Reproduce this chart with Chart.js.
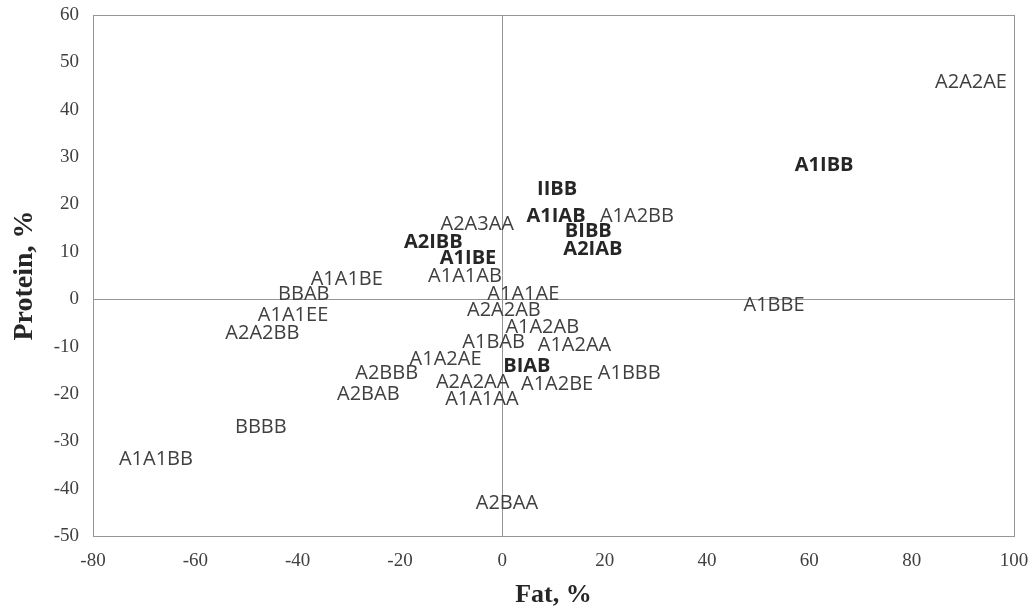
<!DOCTYPE html>
<html>
<head>
<meta charset="utf-8">
<script src="https://cdn.jsdelivr.net/npm/chart.js@4"></script>
<style>
html, body { margin: 0; padding: 0; background: #fff; }
</style>
</head>
<body>
<canvas id="chart1" width="1034" height="613"></canvas>
<script>
var ctx = document.getElementById('chart1').getContext('2d');

// genotype labels with their fat / protein deviations (%)
var names = ['A2A2AE', 'A1IBB', 'IIBB', 'A1IAB', 'A1A2BB', 'A2A3AA', 'BIBB', 'A2IBB',
	'A2IAB', 'A1IBE', 'A1A1AB', 'A1A1BE', 'A1A1AE', 'BBAB', 'A1BBE', 'A2A2AB',
	'A1A1EE', 'A1A2AB', 'A2A2BB', 'A1A2AA', 'A1BAB', 'A1A2AE', 'BIAB', 'A2BBB',
	'A1BBB', 'A2A2AA', 'A1A2BE', 'A2BAB', 'A1A1AA', 'BBBB', 'A1A1BB', 'A2BAA'];
var fat = [91.6, 62.9, 10.7, 10.5, 26.3, -4.9, 16.8, -13.5,
	17.7, -6.7, -7.3, -30.4, 4.1, -38.8, 53.1, 0.3,
	-40.9, 7.8, -46.9, 14.1, -1.7, -11.1, 4.8, -22.6,
	24.8, -5.8, 10.7, -26.2, -4.0, -47.2, -67.7, 0.9];
var protein = [45.8, 28.3, 23.1, 17.4, 17.4, 15.9, 14.3, 12.1,
	10.5, 8.7, 4.8, 4.3, 1.1, 1.1, -1.2, -2.3,
	-3.4, -6.0, -7.2, -9.7, -9.0, -12.6, -14.1, -15.7,
	-15.7, -17.5, -17.9, -20.1, -21.1, -27.1, -33.7, -43.0];
var boldNames = ['A1IBB', 'IIBB', 'A1IAB', 'BIBB', 'A2IBB', 'A2IAB', 'A1IBE', 'BIAB'];

var xTicks = [-80, -60, -40, -20, 0, 20, 40, 60, 80, 100];
var yTicks = [-50, -40, -30, -20, -10, 0, 10, 20, 30, 40, 50, 60];

var points = names.map(function(n, i) {
	return { x: fat[i], y: protein[i] };
});

// writes each genotype name on its point
var pointLabels = {
	id: 'pointLabels',
	afterDatasetsDraw: function(chart) {
		var c = chart.ctx;
		var meta = chart.getDatasetMeta(0);
		c.save();
		c.textAlign = 'center';
		c.textBaseline = 'middle';
		meta.data.forEach(function(pt, i) {
			var bold = boldNames.indexOf(names[i]) >= 0;
			c.font = (bold ? 'bold ' : '') + '20px "Open Sans"';
			c.fillStyle = bold ? '#262626' : '#404040';
			c.fillText(names[i], pt.x, pt.y);
		});
		c.restore();
	}
};

// box round the plot area
var plotFrame = {
	id: 'plotFrame',
	beforeDatasetsDraw: function(chart) {
		var a = chart.chartArea;
		var c = chart.ctx;
		c.save();
		c.strokeStyle = '#969696';
		c.lineWidth = 1;
		c.strokeRect(Math.round(a.left) + 0.5, Math.round(a.top) + 0.5,
			Math.round(a.right - a.left), Math.round(a.bottom - a.top));
		c.restore();
	}
};

function zeroLine(c) {
	return c.tick && c.tick.value === 0 ? '#969696' : 'rgba(0,0,0,0)';
}

var chart1 = new Chart(ctx, {
	type: 'scatter',
	data: {
		datasets: [{
			label: 'Genotypes',
			data: points,
			pointRadius: 0,
			pointHoverRadius: 0,
			showLine: false
		}]
	},
	options: {
		responsive: false,
		animation: false,
		layout: { padding: { left: 6, top: 15, right: 20, bottom: 0 } },
		plugins: {
			legend: { display: false },
			tooltip: { enabled: false }
		},
		scales: {
			x: {
				type: 'linear',
				min: -80,
				max: 100,
				afterBuildTicks: function(axis) {
					axis.ticks = xTicks.map(function(v) { return { value: v }; });
				},
				afterFit: function(axis) {
					axis.height = 77;
					axis.paddingLeft = 0;
					axis.paddingRight = 0;
				},
				grid: { color: zeroLine, drawTicks: false },
				border: { display: false },
				ticks: {
					padding: 14,
					color: '#404040',
					font: { family: '"Liberation Serif"', size: 19 }
				},
				title: {
					display: true,
					text: 'Fat, %',
					color: '#262626',
					padding: { top: 0, bottom: 2 },
					font: { family: '"Liberation Serif"', size: 26, weight: 'bold' }
				}
			},
			y: {
				type: 'linear',
				min: -50,
				max: 60,
				afterBuildTicks: function(axis) {
					axis.ticks = yTicks.map(function(v) { return { value: v }; });
				},
				afterFit: function(axis) {
					axis.width = 87;
					axis.paddingTop = 0;
					axis.paddingBottom = 0;
				},
				grid: { color: zeroLine, drawTicks: false },
				border: { display: false },
				ticks: {
					padding: 14,
					color: '#404040',
					font: { family: '"Liberation Serif"', size: 19 }
				},
				title: {
					display: true,
					text: 'Protein, %',
					color: '#262626',
					padding: { top: 2, bottom: 0 },
					font: { family: '"Liberation Serif"', size: 28, weight: 'bold' }
				}
			}
		}
	},
	plugins: [plotFrame, pointLabels]
});
</script>
</body>
</html>
